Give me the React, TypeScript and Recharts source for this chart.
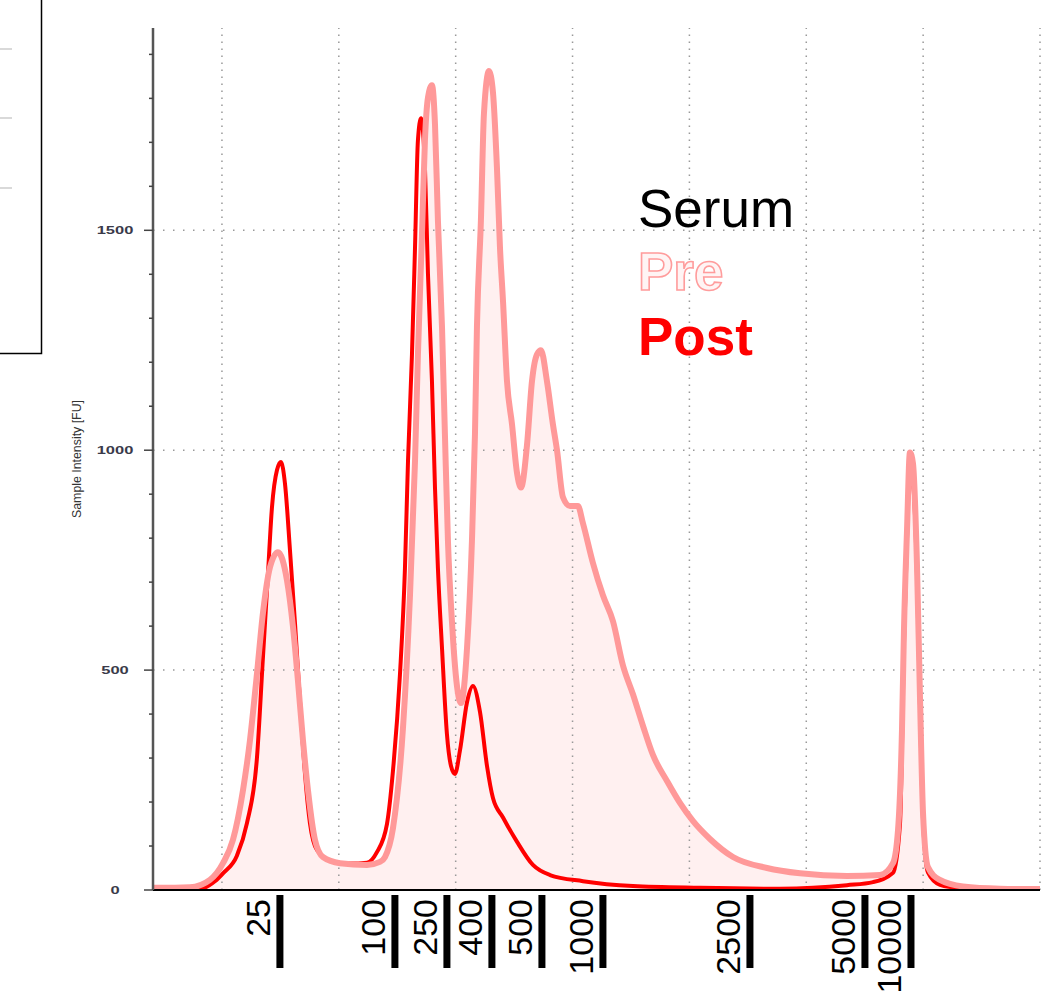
import React from 'react';
import { ComposedChart, Area, Line, XAxis, YAxis, ReferenceLine } from 'recharts';

// migration time (s) and fluorescence (FU)
const preTimes = [
  14.1, 15.98, 17.26, 18.97, 20.09, 20.94, 21.8, 22.4, 23.0, 23.51,
  24.11, 24.79, 25.56, 26.08, 26.5, 26.93, 27.36, 27.96, 28.64, 30.1,
  32.41, 33.52, 33.95, 34.63, 35.49, 36.09, 36.52, 36.77, 37.11, 37.37,
  37.63, 37.97, 38.23, 38.48, 38.83, 39.08, 39.34, 39.68, 40.11, 40.45,
  40.97, 41.39, 41.65, 41.82, 42.16, 42.42, 42.85, 43.19, 43.53, 43.79,
  44.05, 44.39, 44.82, 45.24, 45.59, 46.1, 46.53, 46.96, 47.3, 47.81,
  48.32, 48.67, 49.18, 49.78, 50.46, 50.89, 51.75, 52.6, 53.46, 54.31,
  55.17, 56.03, 56.88, 58.08, 59.19, 60.3, 61.76, 63.73, 66.64, 69.46,
  73.48, 76.31, 77.42, 77.85, 78.19, 78.36, 78.62, 78.87, 79.13, 79.47,
  79.73, 79.99, 80.41, 81.44, 83.41, 86.58, 90.0,
];
const preValues = [
  5, 5, 6, 23, 61, 114, 227, 341, 493, 630,
  734, 768, 705, 598, 477, 341, 227, 114, 75, 61,
  57, 64, 75, 140, 368, 670, 975, 1218, 1486, 1705,
  1802, 1830, 1741, 1523, 1280, 1036, 793, 611, 464, 425,
  550, 793, 1036, 1280, 1523, 1766, 1862, 1814, 1643, 1461,
  1339, 1157, 1059, 950, 915, 1011, 1157, 1218, 1227, 1157,
  1059, 1000, 893, 873, 873, 834, 743, 670, 611, 511,
  445, 373, 307, 248, 198, 157, 116, 75, 50, 38,
  32, 34, 61, 136, 364, 591, 818, 995, 970, 743,
  439, 175, 52, 23, 8, 3, 2,
];

const postTimes = [
  14.1, 18.12, 19.4, 20.09, 21.28, 22.14, 23.0, 23.51, 23.94, 24.28,
  24.71, 25.05, 25.39, 25.82, 26.25, 26.67, 27.1, 27.53, 28.13, 29.5,
  30.95, 32.41, 33.26, 34.12, 34.63, 35.23, 35.66, 35.92, 36.26, 36.52,
  36.77, 37.03, 37.37, 37.63, 37.97, 38.23, 38.48, 38.83, 39.25, 39.6,
  39.94, 40.37, 40.97, 41.48, 42.08, 42.68, 43.19, 44.05, 45.24, 46.61,
  48.07, 50.89, 55.17, 60.9, 67.75, 70.57, 73.48, 75.71, 77.42, 78.02,
  78.36, 78.62, 78.87, 79.13, 79.47, 79.73, 79.99, 80.41, 81.44, 83.41,
  86.58, 90.0,
];
const postValues = [
  2, 3, 20, 38, 78, 152, 302, 530, 720, 870,
  955, 973, 925, 773, 607, 432, 266, 152, 91, 64,
  60, 62, 86, 150, 270, 489, 732, 975, 1218, 1461,
  1705, 1755, 1643, 1400, 1157, 914, 732, 550, 355, 282,
  264, 318, 427, 464, 405, 282, 209, 165, 110, 57,
  34, 20, 9, 5, 3, 5, 11, 18, 39, 150,
  560, 800, 960, 930, 720, 420, 160, 40, 12, 4,
  2, 1,
];

// ladder size markers (nt) and where they sit on the time axis
const ladderLabels = ['25', '100', '250', '400', '500', '1000', '2500', '5000', '10000'];
const ladderTimes = [24.96, 34.8, 39.25, 43.1, 47.38, 52.6, 65.18, 75.02, 78.96];

const gridTimes = [20, 30, 40, 50, 60, 70, 80, 90];
const gridValues = [500, 1000, 1500];
const yTicks = [0, 100, 200, 300, 400, 500, 600, 700, 800, 900, 1000, 1100, 1200, 1300, 1400, 1500, 1600, 1700, 1800, 1900];

const legendNames = ['Serum', 'Pre', 'Post'];

const preData = preTimes.map((t, i) => ({ t, v: preValues[i] }));
const postData = postTimes.map((t, i) => ({ t, v: postValues[i] }));

const FONT = '"Liberation Sans", Arial, Helvetica, sans-serif';
const W = 1055;
const H = 995;

const LadderTick = (props: any) => {
  const { x, y, index } = props;
  return (
    <g>
      <rect x={x - 3.5} y={y + 5} width={7} height={73} fill="#000" />
      <text
        x={0}
        y={0}
        transform={`translate(${x - 9.5} ${y + 9}) rotate(-90)`}
        textAnchor="end"
        fontSize={34}
        fontFamily={FONT}
        fill="#000"
      >
        {ladderLabels[index]}
      </text>
    </g>
  );
};

const IntensityTick = (props: any) => {
  const { x, y, payload } = props;
  const major = payload.value % 500 === 0;
  return (
    <g>
      <line x1={x - (major ? 9 : 4)} x2={x} y1={y} y2={y} stroke="#444" strokeWidth={1.5} />
      {major && (
        <text
          x={0}
          y={0}
          transform={`translate(115 ${y}) scale(1.5 1)`}
          textAnchor="middle"
          dominantBaseline="central"
          fontSize={11}
          fontWeight="bold"
          fontFamily={FONT}
          fill="#3a3a4a"
        >
          {payload.value}
        </text>
      )}
    </g>
  );
};

export default function App() {
  return (
    <div style={{ position: 'absolute', left: 0, top: 0, width: W, height: H, background: '#fff', fontFamily: FONT }}>
      <ComposedChart width={W} height={H} margin={{ top: 28, right: 15, left: 0, bottom: 0 }}>
        <XAxis
          type="number"
          dataKey="t"
          domain={[14.1, 90]}
          ticks={ladderTimes}
          interval={0}
          tick={LadderTick}
          tickLine={false}
          tickSize={0}
          tickMargin={0}
          height={105}
          axisLine={{ stroke: '#000', strokeWidth: 2 }}
          allowDataOverflow
        />
        <YAxis
          type="number"
          domain={[0, 1960]}
          ticks={yTicks}
          interval={0}
          tick={IntensityTick}
          tickLine={false}
          tickSize={0}
          tickMargin={0}
          width={153}
          axisLine={{ stroke: '#555', strokeWidth: 2.5 }}
          allowDataOverflow
        />
        <Area
          data={preData}
          dataKey="v"
          type="monotone"
          stroke="none"
          fill="#fff0f0"
          fillOpacity={1}
          isAnimationActive={false}
        />
        {gridTimes.map((t) => (
          <ReferenceLine key={'gx' + t} x={t} stroke="#999" strokeWidth={1.5} strokeDasharray="1.5 5.5" />
        ))}
        {gridValues.map((v) => (
          <ReferenceLine key={'gy' + v} y={v} stroke="#999" strokeWidth={1.5} strokeDasharray="1.5 8.5" />
        ))}
        <Line
          data={postData}
          dataKey="v"
          type="monotone"
          stroke="#ff0000"
          strokeWidth={4}
          dot={false}
          isAnimationActive={false}
        />
        <Line
          data={preData}
          dataKey="v"
          type="monotone"
          stroke="#ff9999"
          strokeWidth={6}
          dot={false}
          isAnimationActive={false}
        />
      </ComposedChart>

      <svg width={W} height={H} style={{ position: 'absolute', left: 0, top: 0, pointerEvents: 'none' }}>
        {/* cropped neighbouring panel */}
        <rect x={-2} y={-2} width={43.5} height={355.5} fill="none" stroke="#000" strokeWidth={1.5} />
        {[49, 118, 188].map((gy) => (
          <line key={gy} x1={0} x2={12} y1={gy} y2={gy} stroke="#ccc" strokeWidth={1.5} />
        ))}
        <text
          x={0}
          y={0}
          transform="translate(81 459) rotate(-90)"
          textAnchor="middle"
          fontSize={13}
          textLength={118}
          lengthAdjust="spacingAndGlyphs"
          fontFamily={FONT}
          fill="#333"
        >
          Sample Intensity [FU]
        </text>
        <text x={638} y={227} fontSize={53} fontFamily={FONT} fill="#000">
          {legendNames[0]}
        </text>
        <text
          x={638}
          y={290}
          fontSize={53}
          fontWeight="bold"
          fontFamily={FONT}
          fill="#fff4f4"
          stroke="#ff9c9c"
          strokeWidth={1.6}
        >
          {legendNames[1]}
        </text>
        <text x={638} y={355} fontSize={53} fontWeight="bold" fontFamily={FONT} fill="#ff0000">
          {legendNames[2]}
        </text>
      </svg>
    </div>
  );
}
